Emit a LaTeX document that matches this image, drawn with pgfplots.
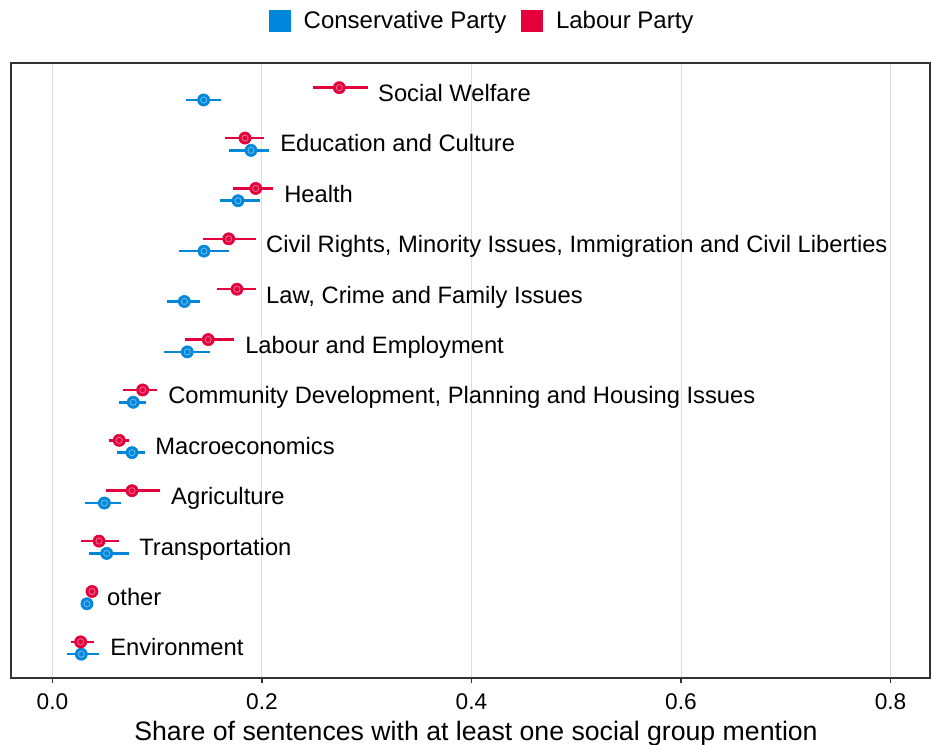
\documentclass[border=0pt]{standalone}
\usepackage{fontspec}
\setmainfont{Liberation Sans}
\usepackage{pgfplots}
\usepackage{pgfplotstable}
\pgfplotsset{compat=1.18}
\definecolor{consblue}{HTML}{0087DC}
\definecolor{labred}{HTML}{E4003B}

% row: 1 = bottom (Environment) ... 12 = top (Social Welfare)
\pgfplotstableread{
row x lo hi
12 0.1443 0.1271 0.1605
11 0.1895 0.1688 0.2064
10 0.1771 0.1599 0.1978
9 0.1446 0.1208 0.1688
8 0.1259 0.1096 0.1408
7 0.1287 0.1065 0.1504
6 0.0771 0.0637 0.0893
5 0.0759 0.0618 0.0883
4 0.0495 0.0307 0.0654
3 0.0517 0.0351 0.0727
2 0.0329 0.0310 0.0349
1 0.0275 0.0135 0.0444
}\constab

\pgfplotstableread{
row x lo hi
12 0.2738 0.2489 0.3008
11 0.1838 0.1649 0.2016
10 0.1940 0.1726 0.2102
9 0.1682 0.1440 0.1940
8 0.1761 0.1573 0.1940
7 0.1487 0.1265 0.1733
6 0.0861 0.0676 0.1001
5 0.0637 0.0542 0.0727
4 0.0759 0.0511 0.1029
3 0.0444 0.0275 0.0637
2 0.0377 0.0357 0.0397
1 0.0269 0.0174 0.0393
}\labtab

\pgfplotstableread{
row lx label
12 0.3107 {Social Welfare}
11 0.2172 {Education and Culture}
10 0.2210 {Health}
9 0.2038 {Civil Rights, Minority Issues, Immigration and Civil Liberties}
8 0.2038 {Law, Crime and Family Issues}
7 0.1838 {Labour and Employment}
6 0.1103 {Community Development, Planning and Housing Issues}
5 0.0979 {Macroeconomics}
4 0.1131 {Agriculture}
3 0.0826 {Transportation}
2 0.0520 {other}
1 0.0549 {Environment}
}\topics

\begin{document}
\begin{tikzpicture}
\useasboundingbox (-8.25pt,-50.25pt) rectangle (690.75pt,508.5pt);
\begin{axis}[
  at={(0pt,0pt)}, anchor=south west,
  scale only axis, width=689.25pt, height=461.25pt,
  xmin=-0.0396, xmax=0.8377, ymin=0.405, ymax=12.612,
  ytick=\empty,
  xtick={0,0.2,0.4,0.6,0.8},
  xticklabels={0.0,0.2,0.4,0.6,0.8},
  xtick pos=bottom, tick align=outside,
  major tick length=4pt,
  every tick/.style={color=black!80, line width=1.1pt},
  xmajorgrids,
  grid style={color=black!13, line width=0.75pt},
  axis line style={color=black!80, line width=1.1pt},
  /pgf/number format/assume math mode=true,
  xticklabel style={font=\fontsize{17}{20}\selectfont, anchor=base, yshift=-19.5pt},
  xlabel={Share of sentences with at least one social group mention},
  xlabel style={font=\fontsize{20}{24}\selectfont, at={(axis description cs:0.506,0)}, anchor=base, yshift=-47.25pt},
  legend style={draw=none, fill=none, at={(0.513,1.0683)}, anchor=center,
    font=\fontsize{18}{21}\selectfont, legend columns=2, inner sep=0pt,
    /tikz/every even column/.append style={column sep=9pt}},
  legend cell align=left,
  legend image code/.code={\fill[#1, draw=none] (0pt,-8.25pt) rectangle (16.5pt,8.25pt);
    \path (24pt,0pt);},
]
\addlegendimage{fill=consblue}
\addlegendentry{Conservative Party}
\addlegendimage{fill=labred}
\addlegendentry{Labour Party}

% Conservative
\addplot[forget plot, only marks, mark=*, mark size=4.6pt, color=consblue,
  error bars/.cd, x dir=both, x explicit, error mark=none,
  error bar style={line width=1.9pt, color=consblue}]
  table[x=x, y expr=\thisrow{row}-0.122,
        x error plus expr=\thisrow{hi}-\thisrow{x},
        x error minus expr=\thisrow{x}-\thisrow{lo}] {\constab};
\addplot[forget plot, only marks, mark=o, mark size=2.3pt,
  mark options={draw=white!45!consblue, line width=0.6pt}]
  table[x=x, y expr=\thisrow{row}-0.122] {\constab};

% Labour
\addplot[forget plot, only marks, mark=*, mark size=4.6pt, color=labred,
  error bars/.cd, x dir=both, x explicit, error mark=none,
  error bar style={line width=1.9pt, color=labred}]
  table[x=x, y expr=\thisrow{row}+0.122,
        x error plus expr=\thisrow{hi}-\thisrow{x},
        x error minus expr=\thisrow{x}-\thisrow{lo}] {\labtab};
\addplot[forget plot, only marks, mark=o, mark size=2.3pt,
  mark options={draw=white!45!labred, line width=0.6pt}]
  table[x=x, y expr=\thisrow{row}+0.122] {\labtab};

% topic labels
\addplot[forget plot, draw=none, mark=none,
  nodes near coords, point meta=explicit symbolic,
  nodes near coords style={anchor=base west, inner sep=0pt,
    font=\fontsize{17.8}{21}\selectfont, yshift=-0.358em-2.25pt, text=black}]
  table[x=lx, y=row, meta=label] {\topics};
\end{axis}
\end{tikzpicture}
\end{document}
